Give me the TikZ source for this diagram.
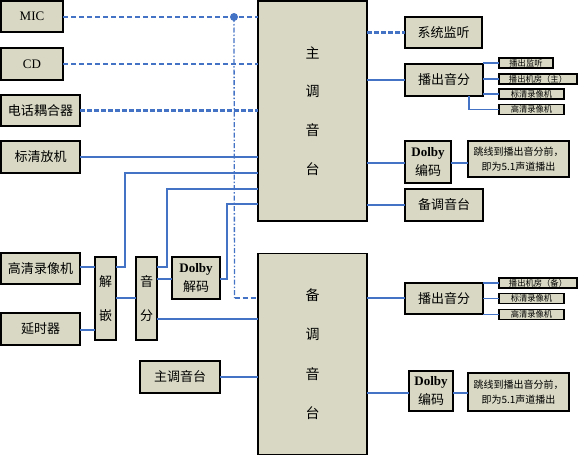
\documentclass[tikz,border=0pt]{standalone}
\usepackage{fontspec}
\setmainfont{Liberation Serif}
\newfontfamily\cjk{Noto Sans CJK SC}
\definecolor{boxfill}{RGB}{216,216,196}
\definecolor{wireblue}{RGB}{68,114,196}
\begin{document}
\begin{tikzpicture}[x=1pt,y=-1pt,
 box/.style={draw=black,line width=1.6pt,fill=boxfill,inner sep=0pt,outer sep=0pt,align=center,font=\cjk\fontsize{13}{15}\selectfont},
 sbox/.style={box,line width=1.4pt,font=\cjk\fontsize{8.3}{9}\selectfont},
 latin/.style={font=\rmfamily\fontsize{13}{15}\selectfont},
 dolbybox/.style={box,font=\cjk\fontsize{13}{19}\selectfont},
 notebox/.style={box,font=\cjk\fontsize{10}{15}\selectfont},
 wire/.style={draw=wireblue,line width=1.3pt},
 dwire/.style={wire,dash pattern=on 5pt off 3pt},
 twire/.style={wire,line width=2.4pt,dash pattern=on 5pt off 2pt},
 ddwire/.style={wire,dash pattern=on 5pt off 2pt on 1.5pt off 2pt},
]
\useasboundingbox (0,0) rectangle (580,455);
\fill[white] (0,0) rectangle (580,455);

% consoles
\node[box,minimum width=109pt,minimum height=220pt,font=\cjk\fontsize{14}{38.7}\selectfont] (main) at (312.5,111) {主\\调\\音\\台};
\node[box,minimum width=109pt,minimum height=201pt,font=\cjk\fontsize{14}{39.3}\selectfont] (backup) at (312.5,354) {备\\调\\音\\台};

% left sources
\node[box,latin,minimum width=62pt,minimum height=31pt] (mic) at (32,16.5) {MIC};
\node[box,latin,minimum width=62pt,minimum height=32pt] (cd) at (32,64) {CD};
\node[box,minimum width=79pt,minimum height=31pt] (tel) at (40.5,110.5) {电话耦合器};
\node[box,minimum width=79pt,minimum height=32pt] (sdp) at (40.5,157) {标清放机};
\node[box,minimum width=79pt,minimum height=31pt] (hdv) at (40.5,268.5) {高清录像机};
\node[box,minimum width=79pt,minimum height=32pt] (delay) at (40.5,329) {延时器};
\node[box,minimum width=21pt,minimum height=83pt,font=\cjk\fontsize{13}{34}\selectfont] (demb) at (105.5,298.5) {解\\嵌};
\node[box,minimum width=21pt,minimum height=83pt,font=\cjk\fontsize{13}{34}\selectfont] (asplit) at (146.5,298.5) {音\\分};
\node[dolbybox,minimum width=48pt,minimum height=42pt] (ddec) at (196,278) {{\rmfamily\bfseries Dolby}\\解码};
\node[box,minimum width=80pt,minimum height=32pt] (main2) at (180,377) {主调音台};

% right top
\node[box,minimum width=77pt,minimum height=31pt] (mon) at (443.5,32.5) {系统监听};
\node[box,minimum width=78pt,minimum height=32pt] (pa) at (444,80) {播出音分};
\node[sbox,minimum width=54pt,minimum height=10pt] (s1) at (526,63) {播出监听};
\node[sbox,minimum width=78pt,minimum height=10pt] (s2) at (538,79) {播出机房（主）};
\node[sbox,minimum width=65pt,minimum height=10pt] (s3) at (531.5,94) {标清录像机};
\node[sbox,minimum width=65pt,minimum height=10pt] (s4) at (531.5,109.5) {高清录像机};
\node[dolbybox,minimum width=46pt,minimum height=42pt] (denc) at (428,162) {{\rmfamily\bfseries Dolby}\\编码};
\node[notebox,minimum width=101pt,minimum height=36pt] (note1) at (518.5,159) {跳线到播出音分前，\\即为5.1声道播出};
\node[box,minimum width=78pt,minimum height=32pt] (bk) at (444,205) {备调音台};

% right bottom
\node[box,minimum width=78pt,minimum height=31pt] (pb) at (444,298.5) {播出音分};
\node[sbox,minimum width=78pt,minimum height=10pt] (t1) at (538,283) {播出机房（备）};
\node[sbox,minimum width=65pt,minimum height=10pt] (t2) at (531.5,298.5) {标清录像机};
\node[sbox,minimum width=65pt,minimum height=10pt] (t3) at (531.5,314.5) {高清录像机};
\node[dolbybox,minimum width=44pt,minimum height=40pt] (denc2) at (431,391) {{\rmfamily\bfseries Dolby}\\编码};
\node[notebox,minimum width=101pt,minimum height=38pt] (note2) at (518.5,392) {跳线到播出音分前，\\即为5.1声道播出};

% junction
\node[circle,fill=wireblue,inner sep=0pt,minimum size=8pt] (jn) at (234,17) {};

% left connections
\draw[dwire] (mic.east |- 0,17) -- (main.west |- 0,17);
\draw[dwire] (cd.east) -- (main.west |- cd.east);
\draw[twire] (tel.east) -- (main.west |- tel.east);
\draw[wire] (sdp.east) -- (main.west |- sdp.east);
\draw[ddwire] (jn.center) -- (234.5,298);
\draw[dwire] (234.5,298) -- (backup.west |- 0,298);

\draw[wire] (hdv.east |- 0,267) -- (demb.west |- 0,267);
\draw[wire] (delay.east |- 0,330) -- (demb.west |- 0,330);
\draw[wire] (demb.east |- 0,267) -| (125,173) -- (main.west |- 0,173);
\draw[wire] (demb.east |- 0,298) -- (asplit.west |- 0,298);
\draw[wire] (asplit.east |- 0,267) -| (167,189) -- (main.west |- 0,189);
\draw[wire] (asplit.east |- 0,279) -- (ddec.west |- 0,279);
\draw[wire] (ddec.east |- 0,279) -| (227,204) -- (main.west |- 0,204);
\draw[wire] (asplit.east |- 0,319) -- (backup.west |- 0,319);
\draw[wire] (main2.east) -- (backup.west |- main2.east);

% right top connections
\draw[twire] (main.east |- mon.west) -- (mon.west);
\draw[wire] (main.east |- pa.west) -- (pa.west);
\draw[wire] (pa.east |- 0,63) -- (s1.west);
\draw[wire] (pa.east |- s2.west) -- (s2.west);
\draw[wire] (pa.east |- s3.west) -- (s3.west);
\draw[wire] (469,96) |- (s4.west);
\draw[wire] (main.east |- 0,163) -- (denc.west |- 0,163);
\draw[wire] (denc.east |- 0,163) -- (note1.west |- 0,163);
\draw[wire] (main.east |- bk.west) -- (bk.west);

% right bottom connections
\draw[wire] (backup.east |- 0,298) -- (pb.west |- 0,298);
\draw[wire] (pb.east |- t1.west) -- (t1.west);
\draw[wire] (pb.east |- t2.west) -- (t2.west);
\draw[wire] (pb.east |- t3.west) -- (t3.west);
\draw[wire] (backup.east |- 0,393) -- (denc2.west |- 0,393);
\draw[wire] (denc2.east |- 0,393) -- (note2.west |- 0,393);
\end{tikzpicture}
\end{document}
